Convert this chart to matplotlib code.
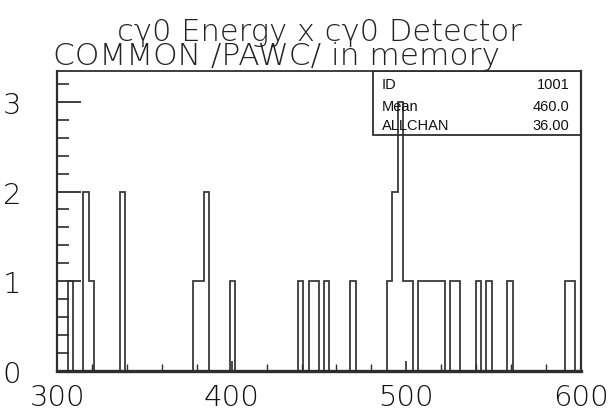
import numpy as np
import matplotlib
matplotlib.use("Agg")
import matplotlib.pyplot as plt
from matplotlib.patches import Rectangle

# histogram 1001: 100 channels of width 3 between 300 and 600
x_lo, x_hi, bin_w = 300, 600, 3
# low edge of every filled channel and its content
bin_lo = [306, 315, 318, 336, 378, 381, 384, 399, 438, 444, 447, 453, 468,
          489, 492, 495, 498, 501, 507, 510, 513, 516, 519, 525, 528,
          540, 546, 558, 591, 594]
counts = [1, 2, 1, 2, 1, 1, 2, 1, 1, 1, 1, 1, 1,
          1, 2, 3, 1, 1, 1, 1, 1, 1, 1, 1, 1,
          1, 1, 1, 1, 1]
hist_id = 1001
x_labels = [300, 400, 500, 600]
y_labels = [0, 1, 2, 3]
title1 = "c\u03b30 Energy x c\u03b30 Detector"
title2 = "COMMON /PAWC/ in memory"

edges = np.arange(x_lo, x_hi + bin_w, bin_w)
h = np.zeros(len(edges) - 1)
for lo, c in zip(bin_lo, counts):
    h[(lo - x_lo) // bin_w] = c
centers = 0.5 * (edges[:-1] + edges[1:])
mean = np.sum(centers * h) / np.sum(h)
allchan = np.sum(h)

ink = "#2e2e2e"
fig = plt.figure(figsize=(6.11, 4.14), dpi=100)
ax = fig.add_axes([0.0938, 0.1022, 0.8566, 0.7227])

ax.stairs(h, edges, color="#3a3a3a", linewidth=1.3)
ax.set_xlim(x_lo, x_hi)
ax.set_ylim(0, 3.34)

for side, lw in [("left", 1.6), ("bottom", 2.4), ("top", 1.3), ("right", 1.6)]:
    ax.spines[side].set_linewidth(lw)
    ax.spines[side].set_color(ink)

ax.set_xticks(x_labels)
ax.set_xticks(np.arange(x_lo, x_hi + 1, 20), minor=True)
ax.set_yticks(y_labels)
ax.set_yticks(np.arange(0, 3.3, 0.2), minor=True)
ax.tick_params(axis="x", which="major", direction="in", length=7, width=1.2,
               color=ink, pad=9, labelsize=21)
ax.tick_params(axis="x", which="minor", direction="in", length=5, width=1.0,
               color=ink)
ax.tick_params(axis="y", which="major", direction="in", length=17, width=1.3,
               color=ink, pad=26, labelsize=21)
ax.tick_params(axis="y", which="minor", direction="in", length=8.5, width=1.2,
               color=ink)
for lab in ax.get_xticklabels() + ax.get_yticklabels():
    lab.set_fontweight("light")
    lab.set_color("#111111")

# stats box in the upper right corner
ax.add_patch(Rectangle((0.6026, 0.788), 0.3974, 0.212, transform=ax.transAxes,
                       fill=False, edgecolor=ink, linewidth=1.3))
rows = [("ID", f"{hist_id}"), ("Mean", f"{mean:.1f}"), ("ALLCHAN", f"{allchan:.2f}")]
for (name, val), yy in zip(rows, [0.958, 0.886, 0.821]):
    ax.text(0.620, yy, name, transform=ax.transAxes, ha="left", va="center",
            fontsize=10.5, family="Liberation Sans", color="#111111")
    ax.text(0.978, yy, val, transform=ax.transAxes, ha="right", va="center",
            fontsize=10.5, family="Liberation Sans", color="#111111")

fig.text(319 / 611, 1 - 41 / 414, title1, ha="center", va="baseline",
         fontsize=22, fontweight="light", color="#222222")
fig.text(53 / 611, 1 - 65 / 414, title2, ha="left", va="baseline",
         fontsize=22.5, fontweight="light", color="#222222")

fig.savefig("out.png", dpi=100)
